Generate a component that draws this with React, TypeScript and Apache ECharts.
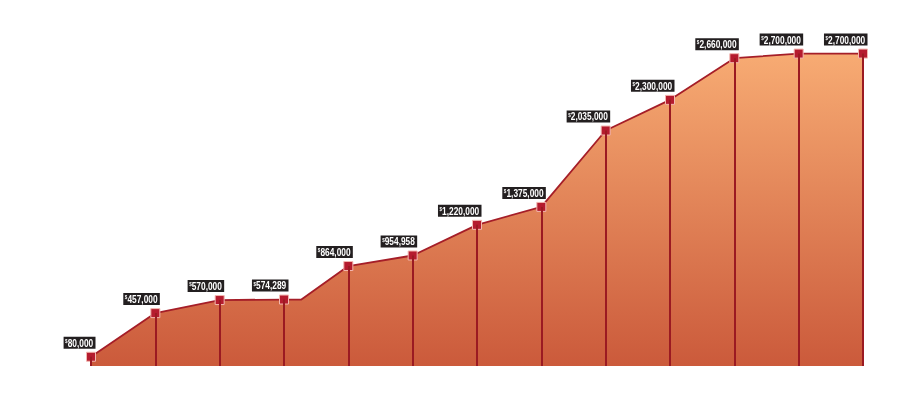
import React, { useEffect, useRef } from "react";
import * as echarts from "echarts";

// Evenly spaced stations (x positions on a 0..12 value axis)
const positions = [0, 1, 2, 3, 4, 5, 6, 7, 8, 9, 10, 11, 12];
const values = [80000, 457000, 570000, 574289, 864000, 954958, 1220000, 1375000, 2035000, 2300000, 2660000, 2700000, 2700000];
// An unmarked bend in the line after the 4th station
const bendPositions = [3.27];
const bendValues = [574289];

const yMax = 2800000;
const FONT = '"Liberation Sans", Arial, sans-serif';

export default function App() {
  const ref = useRef<HTMLDivElement>(null);
  useEffect(() => {
    if (!ref.current) return;
    const chart = echarts.init(ref.current, undefined, { renderer: "svg" });

    type Pt = { value: [number, number]; marked: boolean };
    const pts: Pt[] = [];
    positions.forEach((p, i) => pts.push({ value: [p, values[i]], marked: true }));
    bendPositions.forEach((p, i) => pts.push({ value: [p, bendValues[i]], marked: false }));
    pts.sort((a, b) => a.value[0] - b.value[0]);

    const lineData = pts.map((p) =>
      p.marked ? { value: p.value } : { value: p.value, symbol: "none" }
    );

    const dropLines = positions.map((p, i) => [
      { coord: [p, 0] },
      { coord: [p, values[i]] },
    ]);

    chart.setOption({
      animation: false,
      grid: { left: 91, right: 37, top: 42, bottom: 42 },
      xAxis: { type: "value", min: 0, max: 12, show: false },
      yAxis: { type: "value", min: 0, max: yMax, show: false },
      series: [
        {
          type: "line",
          data: lineData,
          symbol: "rect",
          symbolSize: 9,
          showSymbol: true,
          lineStyle: { color: "#a51e28", width: 1.8 },
          itemStyle: { color: "#b51b2e", borderColor: "#f3b7b0", borderWidth: 1 },
          areaStyle: {
            opacity: 1,
            color: new echarts.graphic.LinearGradient(0, 0, 0, 1, [
              { offset: 0, color: "#f7ab73" },
              { offset: 1, color: "#cb5a3b" },
            ]),
          },
          label: { show: false },
          markLine: {
            silent: true,
            symbol: ["none", "none"],
            label: { show: false },
            lineStyle: { color: "#9b1a22", width: 2, type: "solid" },
            emphasis: { disabled: true },
            data: dropLines,
          },
          z: 2,
        },
        {
          type: "custom",
          data: positions.map((p, i) => [p, values[i]]),
          z: 5,
          silent: true,
          renderItem: (params: any, api: any) => {
            const pt = api.coord([api.value(0), api.value(1)]);
            const txt = Number(api.value(1)).toLocaleString("en-US");
            return {
              type: "group",
              x: pt[0] + 4.5,
              y: pt[1] - 8,
              scaleX: 0.76,
              children: [
                {
                  type: "text",
                  style: {
                    text: "{d|$}{v|" + txt + "}",
                    align: "right",
                    verticalAlign: "bottom",
                    backgroundColor: "#231f20",
                    padding: [1, 3, 1, 2],
                    rich: {
                      d: {
                        fontSize: 6,
                        fill: "#ffffff",
                        fontWeight: "bold",
                        fontFamily: FONT,
                        verticalAlign: "top",
                        lineHeight: 10,
                      },
                      v: {
                        fontSize: 11,
                        fill: "#ffffff",
                        fontWeight: "bold",
                        fontFamily: FONT,
                        lineHeight: 10,
                      },
                    },
                  },
                },
              ],
            };
          },
        },
      ],
    });
    return () => chart.dispose();
  }, []);
  return (
    <div
      ref={ref}
      style={{ position: "fixed", left: 0, top: 0, width: 900, height: 408 }}
    />
  );
}
